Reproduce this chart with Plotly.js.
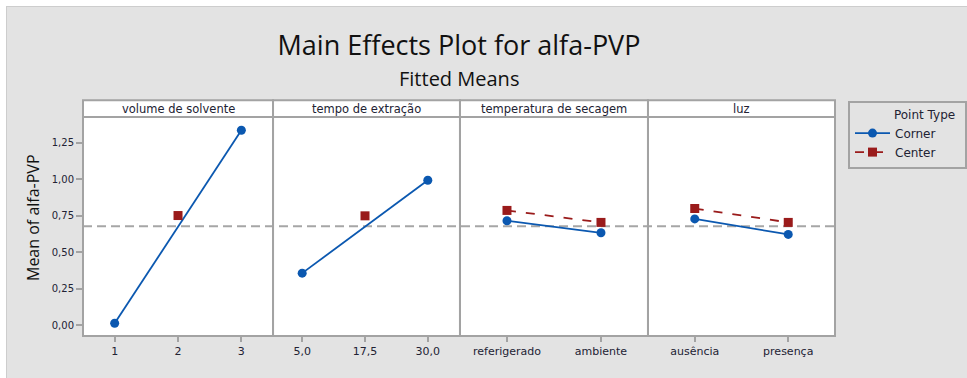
<!DOCTYPE html>
<html>
<head>
<meta charset="utf-8">
<script src="https://cdn.plot.ly/plotly-3.0.1.min.js"></script>
<style>
  html, body { margin: 0; padding: 0; background: #ffffff; }
  #frame { position: absolute; left: 6px; top: 6px; width: 961px; height: 372px; background: #e3e3e3; border-left: 1px solid #cdcdcd; border-top: 1px solid #cdcdcd; box-sizing: border-box; }
  #chart { position: absolute; left: 0; top: 0; width: 967px; height: 378px; }
</style>
</head>
<body>
<div id="frame"></div>
<div id="chart"></div>
<script>
// ---- data ----
const factorNames = ["volume de solvente", "tempo de extração", "temperatura de secagem", "luz"];

const volumeLevels = [1, 3];
const volumeCorner = [0.014, 1.334];
const volumeCenterLevel = [2];
const volumeCenter = [0.751];

const tempoLevels = [5, 30];
const tempoCorner = [0.357, 0.992];
const tempoCenterLevel = [17.5];
const tempoCenter = [0.749];
const tempoTickVals = [5, 17.5, 30];
const tempoTickText = ["5,0", "17,5", "30,0"];

const secagemLevels = ["referigerado", "ambiente"];
const secagemCorner = [0.715, 0.633];
const secagemCenter = [0.786, 0.704];

const luzLevels = ["ausência", "presença"];
const luzCorner = [0.728, 0.622];
const luzCenter = [0.799, 0.704];

const grandMean = 0.678;
const yTicks = [0, 0.25, 0.5, 0.75, 1.0, 1.25];

// ---- styling ----
const blue = "#0b58b0";
const red = "#9a1b1b";
const frameGray = "#a3a3a3";
const textColor = "#222233";
const fontTick = "DejaVu Sans, sans-serif";
const fontTitle = "Open Sans, sans-serif";

function corner(x, y, xa, ya, show) {
  return { x: x, y: y, xaxis: xa, yaxis: ya, type: "scatter", mode: "lines+markers",
    name: "Corner", legendgroup: "corner", showlegend: show,
    line: { color: blue, width: 1.8 }, marker: { color: blue, symbol: "circle", size: 9 },
    hoverinfo: "skip" };
}
function center(x, y, xa, ya, show) {
  return { x: x, y: y, xaxis: xa, yaxis: ya, type: "scatter", mode: "lines+markers",
    name: "Center", legendgroup: "center", showlegend: show,
    line: { color: red, width: 1.8, dash: "9px,10px" }, marker: { color: red, symbol: "square", size: 9 },
    hoverinfo: "skip" };
}

const data = [
  corner(volumeLevels, volumeCorner, "x", "y", true),
  center(volumeCenterLevel, volumeCenter, "x", "y", true),
  corner(tempoLevels, tempoCorner, "x2", "y2", false),
  center(tempoCenterLevel, tempoCenter, "x2", "y2", false),
  corner(secagemLevels, secagemCorner, "x3", "y3", false),
  center(secagemLevels, secagemCenter, "x3", "y3", false),
  corner(luzLevels, luzCorner, "x4", "y4", false),
  center(luzLevels, luzCenter, "x4", "y4", false)
];

const domains = [[0, 0.2527], [0.2527, 0.5013], [0.5013, 0.7513], [0.7513, 1]];

function xAxis(i, extra) {
  return Object.assign({
    domain: domains[i], anchor: i === 0 ? "y" : "y" + (i + 1),
    showline: false, showgrid: false, zeroline: false,
    ticks: "outside", ticklen: 5, tickcolor: frameGray, tickwidth: 2,
    tickfont: { family: fontTick, size: 11, color: textColor },
    fixedrange: true
  }, extra);
}
function yAxis(i, extra) {
  return Object.assign({
    anchor: i === 0 ? "x" : "x" + (i + 1),
    range: [-0.073, 1.425],
    showline: false, showgrid: false, zeroline: false, fixedrange: true
  }, extra);
}

const headerTop = 1.077;
const shapes = [];
const annotations = [];
shapes.push({ type: "line", xref: "paper", yref: "y", x0: 0, x1: 1, y0: grandMean, y1: grandMean,
  line: { color: "#a6a6a6", width: 2, dash: "9px,5px" }, layer: "below" });
domains.forEach(function (d, i) {
  shapes.push({ type: "rect", xref: "paper", yref: "paper", x0: d[0], x1: d[1], y0: 1, y1: headerTop,
    fillcolor: "#ffffff", line: { color: frameGray, width: 2 }, layer: "below" });
  shapes.push({ type: "rect", xref: "paper", yref: "paper", x0: d[0], x1: d[1], y0: 0, y1: 1,
    fillcolor: "rgba(0,0,0,0)", line: { color: frameGray, width: 2 }, layer: "above" });
  annotations.push({ xref: "paper", yref: "paper", x: (d[0] + d[1]) / 2, y: (1 + headerTop) / 2,
    xanchor: "center", yanchor: "middle", showarrow: false, text: factorNames[i],
    font: { family: fontTick, size: 11.5, color: textColor } });
});
annotations.push({ xref: "paper", yref: "paper", x: (459 - 83) / 752, y: 1 + (117 - 78) / 219,
  xanchor: "center", yanchor: "middle", showarrow: false, text: "Fitted Means",
  font: { family: fontTitle, size: 20, color: "#111111" } });
annotations.push({ xref: "paper", yref: "paper", x: (33 - 83) / 752, y: (336 - 218) / 219,
  xanchor: "center", yanchor: "middle", showarrow: false, textangle: -90, text: "Mean of alfa-PVP",
  font: { family: fontTitle, size: 16, color: "#111111" } });

const NB = "\u00a0";
const layout = {
  width: 967, height: 378,
  paper_bgcolor: "rgba(0,0,0,0)", plot_bgcolor: "#ffffff",
  margin: { l: 83, r: 132, t: 117, b: 42, pad: 0, autoexpand: false },
  separators: ",.",
  title: { text: "Main Effects Plot for alfa-PVP", x: 459 / 967, xanchor: "center", xref: "container",
    y: 1 - 46 / 378, yanchor: "middle", yref: "container",
    font: { family: fontTitle, size: 27, color: "#111111" } },
  showlegend: true,
  legend: { x: (848 - 83) / 752, y: 1 + (117 - 101) / 219, xanchor: "left", yanchor: "top",
    bgcolor: "rgba(0,0,0,0)", bordercolor: frameGray, borderwidth: 2,
    title: { text: NB.repeat(11) + "Point Type" + NB.repeat(2), side: "top", font: { family: fontTick, size: 12, color: textColor } },
    font: { family: fontTick, size: 12, color: textColor }, tracegroupgap: 0, itemwidth: 35 },
  xaxis: xAxis(0, { range: [0.5, 3.5], tickvals: [1, 2, 3] }),
  xaxis2: xAxis(1, { range: [-0.8, 36.4], tickvals: tempoTickVals, ticktext: tempoTickText }),
  xaxis3: xAxis(2, { type: "category", range: [-0.5, 1.5] }),
  xaxis4: xAxis(3, { type: "category", range: [-0.5, 1.5] }),
  yaxis: yAxis(0, { tickvals: yTicks, tickformat: ".2f", ticks: "outside", ticklen: 6, tickcolor: frameGray, tickwidth: 2,
    tickfont: { family: fontTick, size: 10, color: textColor } }),
  yaxis2: yAxis(1, { matches: "y", showticklabels: false, ticks: "" }),
  yaxis3: yAxis(2, { matches: "y", showticklabels: false, ticks: "" }),
  yaxis4: yAxis(3, { matches: "y", showticklabels: false, ticks: "" }),
  shapes: shapes,
  annotations: annotations,
  hovermode: false
};

Plotly.newPlot("chart", data, layout, { staticPlot: true, displayModeBar: false });
</script>
</body>
</html>
